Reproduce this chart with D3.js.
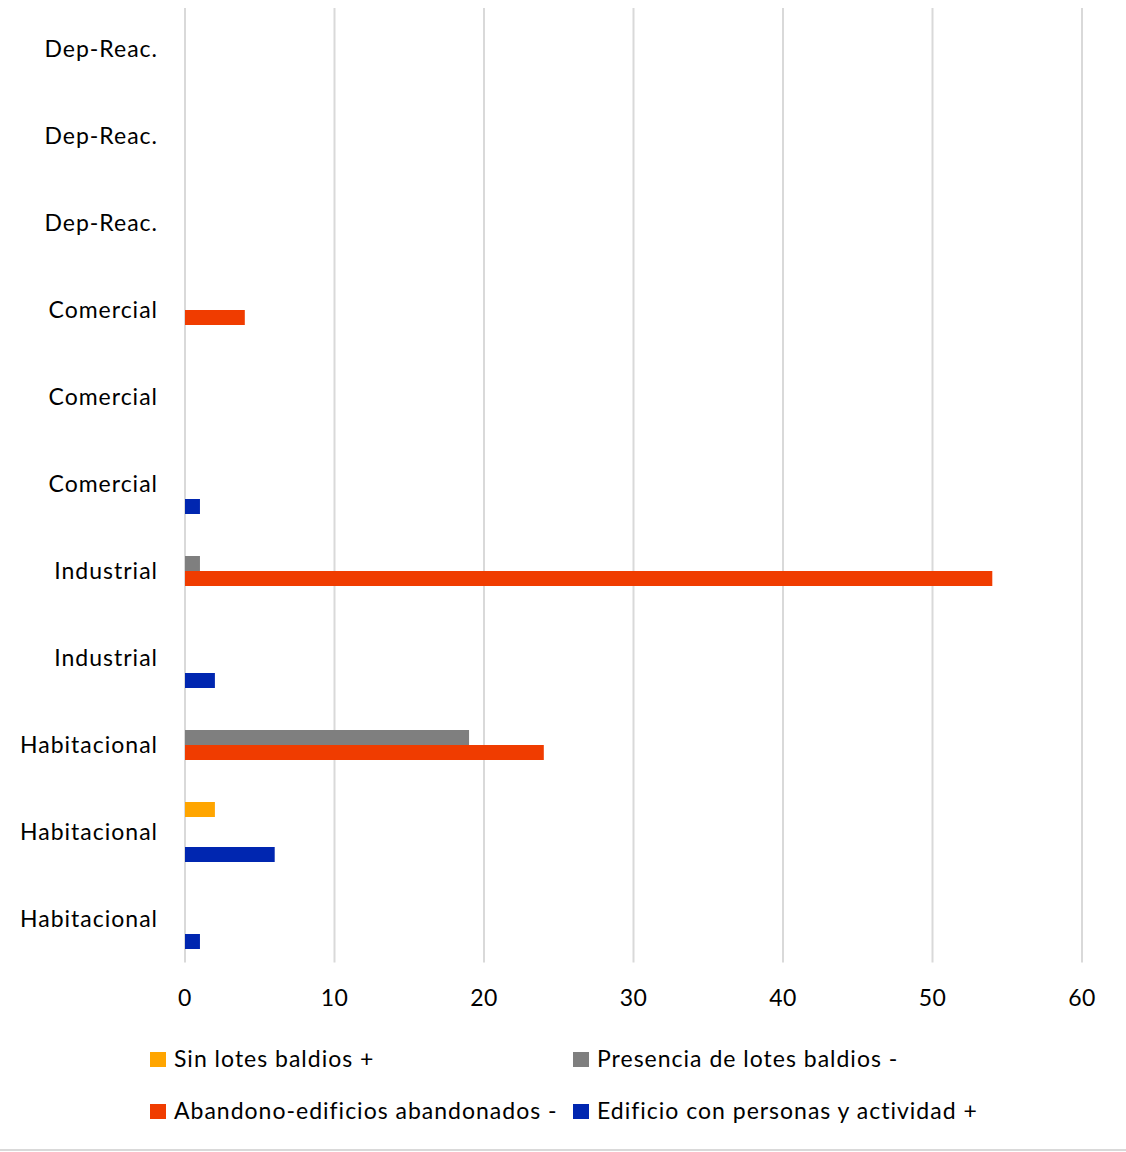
<!DOCTYPE html>
<html>
<head>
<meta charset="utf-8">
<script src="https://cdn.jsdelivr.net/npm/d3@7"></script>
<style>
  body { margin: 0; background: #fff; }
  svg text { font-family: Lato, "Open Sans", sans-serif; fill: #000; }
</style>
</head>
<body>
<div id="chart"></div>
<script>
// categories from top to bottom
var categories = ["Dep-Reac.", "Dep-Reac.", "Dep-Reac.", "Comercial", "Comercial", "Comercial",
    "Industrial", "Industrial", "Habitacional", "Habitacional", "Habitacional"]

var seriesNames = ["Sin lotes baldios +", "Presencia de lotes baldios -",
    "Abandono-edificios abandonados -", "Edificio con personas y actividad +"]
var seriesColors = ["#FFA500", "#7F7F7F", "#F03C00", "#0026B0"]

var sinLotes    = [0, 0, 0, 0, 0, 0, 0, 0, 0, 2, 0]
var presencia   = [0, 0, 0, 0, 0, 0, 1, 0, 19, 0, 0]
var abandono    = [0, 0, 0, 4, 0, 0, 54, 0, 24, 0, 0]
var edificio    = [0, 0, 0, 0, 0, 1, 0, 2, 0, 6, 1]

var xTicks = [0, 10, 20, 30, 40, 50, 60]

var series = [sinLotes, presencia, abandono, edificio]

var width = 1126, height = 1152
var margin = {left: 185, right: 44, top: 5.5, bottom: 189.5}

var svg = d3.select("#chart").append("svg")
    .attr("width", width)
    .attr("height", height)

var x = d3.scaleLinear()
    .domain([0, 60])
    .range([margin.left, width - margin.right])

var y = d3.scaleBand()
    .domain(d3.range(categories.length))
    .range([margin.top, height - margin.bottom])
    .paddingInner(27 / 87)
    .paddingOuter(13.5 / 87)

var ySub = d3.scaleBand()
    .domain(d3.range(series.length))
    .range([0, y.bandwidth()])

// gridlines
svg.append("g")
    .selectAll("line")
    .data(xTicks)
    .join("line")
    .attr("x1", d => x(d))
    .attr("x2", d => x(d))
    .attr("y1", 8)
    .attr("y2", height - margin.bottom)
    .attr("stroke", "#d9d9d9")
    .attr("stroke-width", 2)

// tick labels
svg.append("g")
    .selectAll("text")
    .data(xTicks)
    .join("text")
    .attr("x", d => x(d))
    .attr("y", 1006)
    .attr("text-anchor", "middle")
    .attr("font-size", 23)
    .attr("letter-spacing", 0.5)
    .text(d => d)

// category labels
svg.append("g")
    .selectAll("text")
    .data(categories)
    .join("text")
    .attr("x", 158)
    .attr("y", (d, i) => y(i) + y.bandwidth() / 2 + 8)
    .attr("text-anchor", "end")
    .attr("font-size", 23)
    .attr("letter-spacing", 1)
    .text(d => d)

// bars
series.forEach(function(vals, s) {
    svg.append("g")
        .attr("fill", seriesColors[s])
        .selectAll("rect")
        .data(vals)
        .join("rect")
        .attr("x", x(0))
        .attr("y", (d, i) => y(i) + ySub(s))
        .attr("width", d => x(d) - x(0))
        .attr("height", ySub.bandwidth())
})

// legend
var legendPos = [[150, 1059], [573, 1059], [150, 1111], [573, 1111]]
var legend = svg.append("g")
    .selectAll("g")
    .data(seriesNames)
    .join("g")
    .attr("transform", (d, i) => "translate(" + legendPos[i][0] + "," + legendPos[i][1] + ")")

legend.append("rect")
    .attr("x", 0)
    .attr("y", -7)
    .attr("width", 16)
    .attr("height", 15)
    .attr("fill", (d, i) => seriesColors[i])

legend.append("text")
    .attr("x", 24)
    .attr("y", 8)
    .attr("font-size", 23)
    .attr("letter-spacing", 1)
    .text(d => d)

// bottom border
svg.append("line")
    .attr("x1", 0)
    .attr("x2", width)
    .attr("y1", 1150)
    .attr("y2", 1150)
    .attr("stroke", "#d9d9d9")
    .attr("stroke-width", 2)
</script>
</body>
</html>
